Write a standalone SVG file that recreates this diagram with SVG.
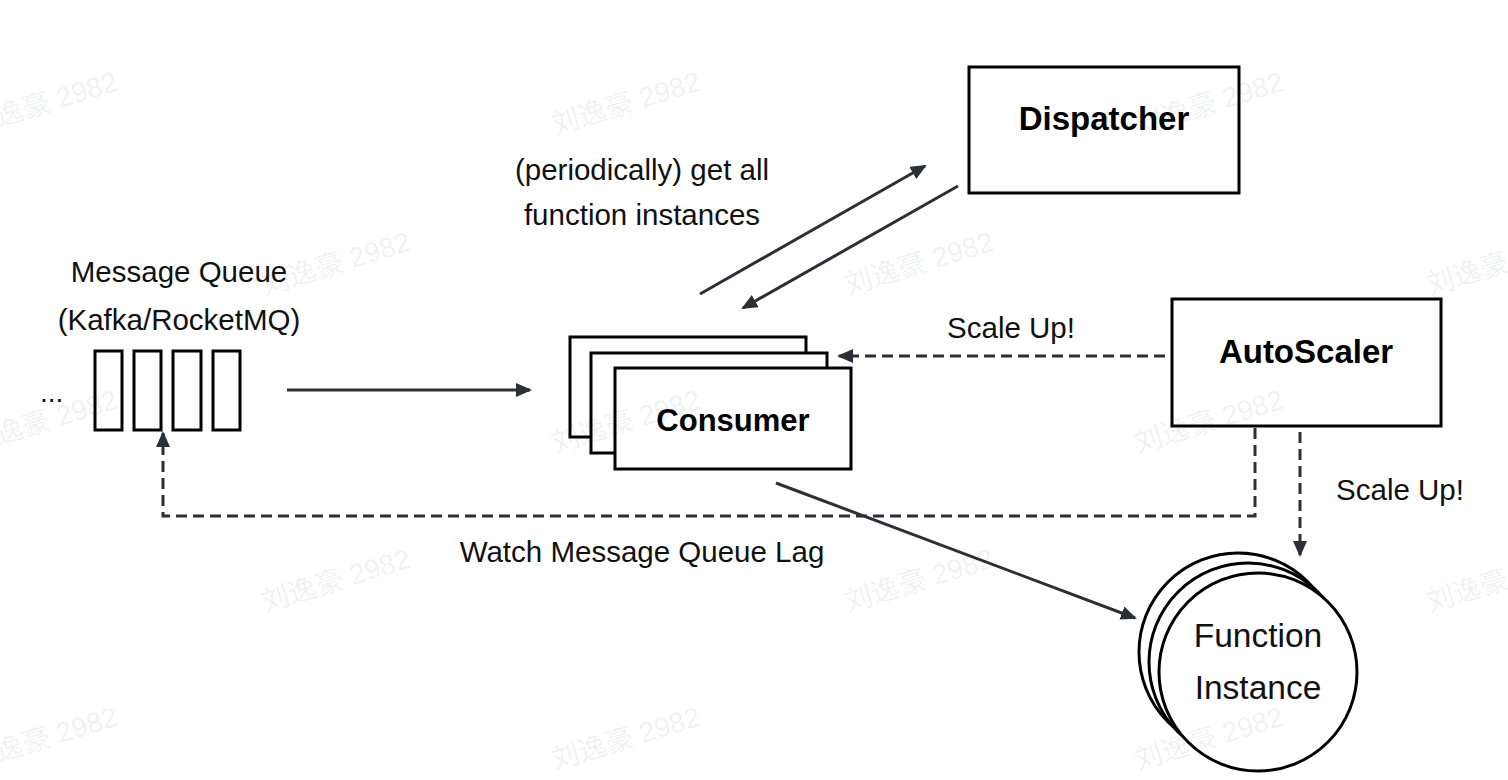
<svg xmlns="http://www.w3.org/2000/svg" width="1508" height="780" viewBox="0 0 1508 780">
<style>
.box{fill:#fff;stroke:#000;stroke-width:3}
.t{font-family:"Liberation Sans",Arial,sans-serif;fill:#111;font-size:29.5px}
.b{font-family:"Liberation Sans",Arial,sans-serif;fill:#000;font-weight:bold;font-size:33px}
.c{fill:none;stroke:#2b2f36;stroke-width:3}
.d{fill:none;stroke:#2b2f36;stroke-width:3;stroke-dasharray:11 6}
.wm{font-family:"Liberation Sans","Noto Sans CJK SC",sans-serif;font-size:28px;fill:#1a2030;fill-opacity:0.07}
</style>
<defs>
<marker id="ah" markerUnits="userSpaceOnUse" markerWidth="16" markerHeight="14" viewBox="0 0 16 14" refX="14" refY="7" orient="auto">
<path d="M0,0 L16,7 L0,14 z" fill="#2b2f36"/>
</marker>
</defs>
<rect width="1508" height="780" fill="#fff"/>

<g id="connectors">
<line class="c" x1="287" y1="390" x2="530" y2="390" marker-end="url(#ah)"/>
<line class="c" x1="700" y1="294" x2="925" y2="166" marker-end="url(#ah)"/>
<line class="c" x1="958" y1="186" x2="743" y2="308" marker-end="url(#ah)"/>
<line class="d" x1="1165" y1="356" x2="839" y2="356" marker-end="url(#ah)"/>
<line class="d" x1="1300" y1="432" x2="1300" y2="555" marker-end="url(#ah)"/>
<polyline class="d" points="1255,428 1255,516 163,516 163,433" marker-end="url(#ah)"/>
<line class="c" x1="776" y1="483" x2="1135" y2="618" marker-end="url(#ah)"/>
</g>

<g id="queue">
<rect class="box" x="95" y="351" width="27" height="79"/>
<rect class="box" x="134" y="351" width="27" height="79"/>
<rect class="box" x="173" y="351" width="28" height="79"/>
<rect class="box" x="213" y="351" width="27" height="79"/>
<text class="t" x="40" y="402" style="font-size:28px">...</text>
<text class="t" x="179" y="282" text-anchor="middle">Message Queue</text>
<text class="t" x="179" y="330" text-anchor="middle">(Kafka/RocketMQ)</text>
</g>

<g id="consumer">
<rect class="box" x="570" y="337" width="236" height="100"/>
<rect class="box" x="591" y="353" width="236" height="100"/>
<rect class="box" x="615" y="368" width="236" height="101"/>
<text class="b" x="733" y="431" text-anchor="middle" style="font-size:31px">Consumer</text>
</g>

<g id="dispatcher">
<rect class="box" x="969" y="67" width="270" height="126"/>
<text class="b" x="1104" y="130" text-anchor="middle">Dispatcher</text>
</g>

<g id="autoscaler">
<rect class="box" x="1172" y="299" width="269" height="127"/>
<text class="b" x="1306" y="363" text-anchor="middle">AutoScaler</text>
</g>

<g id="function-instance">
<circle class="box" cx="1238" cy="652" r="99"/>
<circle class="box" cx="1248" cy="662" r="99"/>
<circle class="box" cx="1258" cy="672" r="99"/>
<text class="t" x="1258" y="647" text-anchor="middle" style="font-size:33.5px">Function</text>
<text class="t" x="1258" y="699" text-anchor="middle" style="font-size:33.5px">Instance</text>
</g>

<g id="labels">
<text class="t" x="642" y="180" text-anchor="middle">(periodically) get all</text>
<text class="t" x="642" y="225" text-anchor="middle">function instances</text>
<text class="t" x="1011" y="338" text-anchor="middle">Scale Up!</text>
<text class="t" x="1400" y="500" text-anchor="middle">Scale Up!</text>
<text class="t" x="642" y="562" text-anchor="middle">Watch Message Queue Lag</text>
</g>

<g id="watermarks">
<text class="wm" transform="translate(-28,135) rotate(-17)">刘逸豪 2982</text>
<text class="wm" transform="translate(555,135) rotate(-17)">刘逸豪 2982</text>
<text class="wm" transform="translate(1138,135) rotate(-17)">刘逸豪 2982</text>
<text class="wm" transform="translate(265,295) rotate(-17)">刘逸豪 2982</text>
<text class="wm" transform="translate(848,295) rotate(-17)">刘逸豪 2982</text>
<text class="wm" transform="translate(1430,295) rotate(-17)">刘逸豪 2982</text>
<text class="wm" transform="translate(-28,453) rotate(-17)">刘逸豪 2982</text>
<text class="wm" transform="translate(555,453) rotate(-17)">刘逸豪 2982</text>
<text class="wm" transform="translate(1138,453) rotate(-17)">刘逸豪 2982</text>
<text class="wm" transform="translate(265,612) rotate(-17)">刘逸豪 2982</text>
<text class="wm" transform="translate(848,612) rotate(-17)">刘逸豪 2982</text>
<text class="wm" transform="translate(1430,612) rotate(-17)">刘逸豪 2982</text>
<text class="wm" transform="translate(-28,770) rotate(-17)">刘逸豪 2982</text>
<text class="wm" transform="translate(555,770) rotate(-17)">刘逸豪 2982</text>
<text class="wm" transform="translate(1138,770) rotate(-17)">刘逸豪 2982</text>
</g>
</svg>
